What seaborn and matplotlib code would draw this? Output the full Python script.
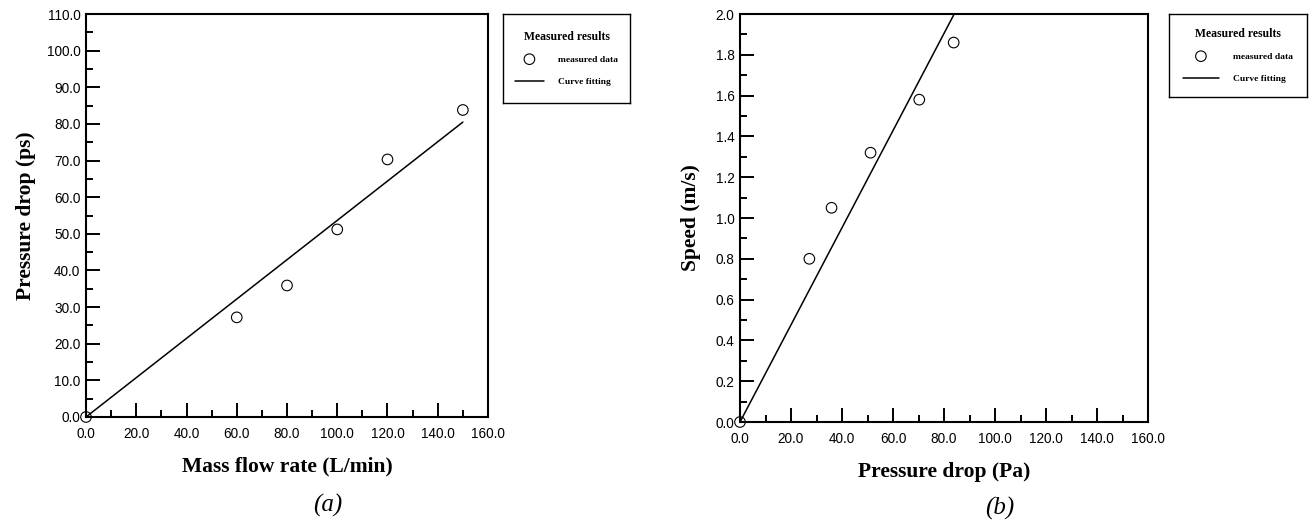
import matplotlib
matplotlib.use("Agg")
import matplotlib.pyplot as plt
from matplotlib.ticker import MultipleLocator, FormatStrFormatter
import seaborn as sns

# (a) pressure drop vs mass flow rate
flow_rate = [0, 60, 80, 100, 120, 150]
pressure_a = [0, 27.2, 35.9, 51.2, 70.3, 83.8]
fit_a_x = [0, 150]
fit_a_y = [0, 80.5]

# (b) speed vs pressure drop
pressure_b = [0, 27.2, 35.9, 51.2, 70.3, 83.8]
speed = [0, 0.80, 1.05, 1.32, 1.58, 1.86]
fit_b_x = [0, 84.0]
fit_b_y = [0, 2.0]

sns.set_theme(style="white")
plt.rcParams["font.family"] = ["Liberation Sans", "DejaVu Sans"]
plt.rcParams["text.color"] = "black"
plt.rcParams["axes.labelcolor"] = "black"
plt.rcParams["xtick.color"] = "black"
plt.rcParams["ytick.color"] = "black"

W, H = 1315, 523
fig = plt.figure(figsize=(W / 100, H / 100), dpi=100)


def box(l, t, r, b):
    return [l / W, 1 - b / H, (r - l) / W, (b - t) / H]


serif_bold = dict(family="Liberation Serif", weight="bold")


def panel(rect, legrect, x, y, fx, fy, ylim, ymaj, ymin, xlabel, ylabel,
          xpad, ypad, tag, tagpos, handlelen):
    ax = fig.add_axes(box(*rect))
    sns.lineplot(x=fx, y=fy, ax=ax, color="black", linewidth=1.1,
                 label="Curve fitting")
    sns.scatterplot(x=x, y=y, ax=ax, marker="o", s=58, facecolor="none",
                    edgecolor="black", linewidth=0.8, label="measured data",
                    clip_on=False, zorder=5)
    ax.set_xlim(0, 160)
    ax.set_ylim(*ylim)
    ax.xaxis.set_major_locator(MultipleLocator(20))
    ax.xaxis.set_minor_locator(MultipleLocator(10))
    ax.yaxis.set_major_locator(MultipleLocator(ymaj))
    ax.yaxis.set_minor_locator(MultipleLocator(ymin))
    ax.xaxis.set_major_formatter(FormatStrFormatter("%.1f"))
    ax.yaxis.set_major_formatter(FormatStrFormatter("%.1f"))
    ax.tick_params(which="both", direction="in", bottom=True, left=True,
                   top=False, right=False, width=1.4, colors="black",
                   labelsize=9.8)
    ax.tick_params(which="major", length=10)
    ax.tick_params(which="minor", length=5)
    ax.tick_params(axis="x", which="major", pad=7)
    ax.tick_params(axis="y", which="major", pad=4)
    for sp in ax.spines.values():
        sp.set_color("black")
        sp.set_linewidth(1.5)
    ax.set_xlabel(xlabel, fontsize=15.5, labelpad=xpad, **serif_bold)
    ax.set_ylabel(ylabel, fontsize=15.5, labelpad=ypad, **serif_bold)

    handles, labels = ax.get_legend_handles_labels()
    if ax.get_legend() is not None:
        ax.get_legend().remove()
    order = [labels.index("measured data"), labels.index("Curve fitting")]
    lax = fig.add_axes(box(*legrect))
    lax.set_xticks([])
    lax.set_yticks([])
    for sp in lax.spines.values():
        sp.set_color("black")
        sp.set_linewidth(1.0)
    leg = lax.legend([handles[i] for i in order], [labels[i] for i in order],
                     loc="center", frameon=False, title="Measured results",
                     prop=dict(family="Liberation Serif", weight="bold", size=6.8),
                     title_fontproperties=dict(family="Liberation Serif",
                                               weight="bold", size=8.5),
                     handlelength=handlelen, handletextpad=1.5,
                     labelspacing=1.5, borderaxespad=0)
    leg._legend_box.sep = 9

    fig.text(tagpos[0] / W, 1 - tagpos[1] / H, tag, ha="center", va="center",
             fontsize=18, family="Liberation Serif", style="italic")
    return ax


panel((86, 14, 488, 417), (503, 14, 630, 103), flow_rate, pressure_a,
      fit_a_x, fit_a_y, (0, 110), 10, 5,
      "Mass flow rate (L/min)", "Pressure drop (ps)", 11, 8, "(a)", (328, 505), 3.0)

panel((740, 14, 1148, 422), (1169, 14, 1307, 97), pressure_b, speed,
      fit_b_x, fit_b_y, (0, 2.0), 0.2, 0.1,
      "Pressure drop (Pa)", "Speed (m/s)", 12, 10.5, "(b)", (1000, 508), 3.8)

fig.savefig("out.png", dpi=100, facecolor="white")
